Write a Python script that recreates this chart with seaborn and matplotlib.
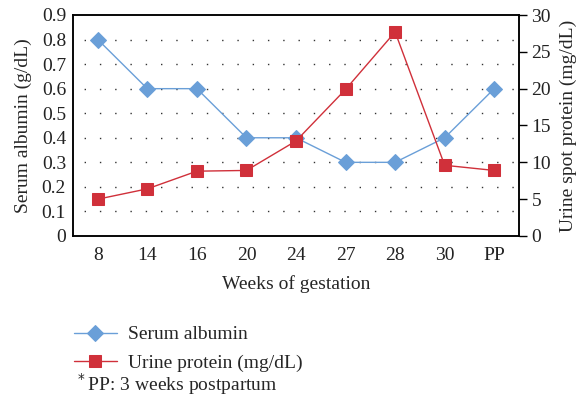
import pandas as pd
import numpy as np
import matplotlib.pyplot as plt
import seaborn as sns

sns.set_style('white')
plt.rcParams['font.family'] = ['Liberation Serif', 'DejaVu Serif']
plt.rcParams.update({'font.size': 14})

# Data
weeks = ['8', '14', '16', '20', '24', '27', '28', '30', 'PP']
serum_albumin = [0.8, 0.6, 0.6, 0.4, 0.4, 0.3, 0.3, 0.4, 0.6]
urine_protein = [5.0, 6.4, 8.8, 8.9, 12.9, 19.9, 27.7, 9.6, 8.9]

df = pd.DataFrame({'week': weeks, 'albumin': serum_albumin, 'protein': urine_protein})

blue = '#6A9FD8'
red = '#D0303A'

fig = plt.figure(figsize=(5.84, 4.04), dpi=100)
ax = fig.add_axes([73 / 584, 1 - 236 / 404, (519 - 73) / 584, (236 - 15) / 404])
ax2 = ax.twinx()

sns.lineplot(data=df, x='week', y='albumin', ax=ax, sort=False, color=blue,
             marker='D', markersize=8.5, markeredgecolor=blue, linewidth=1,
             label='Serum albumin', legend=False)
sns.lineplot(data=df, x='week', y='protein', ax=ax2, sort=False, color=red,
             marker='s', markersize=8.5, markeredgecolor=red, linewidth=1,
             label='Urine protein (mg/dL)', legend=False)

# dotted horizontal grid
for yv in np.arange(0.1, 0.9, 0.1):
    ax.axhline(yv, color='#333333', linestyle=(3, (1, 10)), linewidth=1.0, zorder=0)

ax.set_xlim(-0.5, len(weeks) - 0.5)
ax.set_ylim(0, 0.9)
ax.set_yticks(np.arange(0, 0.91, 0.1))
ax.set_yticklabels(['0'] + [f'{v:.1f}' for v in np.arange(0.1, 0.91, 0.1)])
ax2.set_ylim(0, 30)
ax2.set_yticks(range(0, 31, 5))

ax.set_xlabel('Weeks of gestation', labelpad=8)
ax.set_ylabel('Serum albumin (g/dL)', labelpad=7)
ax2.set_ylabel('Urine spot protein (mg/dL)', labelpad=6)

ax.tick_params(axis='x', length=0, pad=8, labelcolor='#222222')
ax.tick_params(axis='y', length=0, pad=5, labelcolor='#222222')
ax2.tick_params(axis='y', direction='out', length=6, width=1, pad=3,
                color='black', labelcolor='#222222')
for a in (ax, ax2):
    for s in a.spines.values():
        s.set_color('black')
        s.set_linewidth(1.1)

handles = ax.get_lines()[:1] + ax2.get_lines()[:1]
fig.legend(handles, ['Serum albumin', 'Urine protein (mg/dL)'],
           loc='upper left', bbox_to_anchor=(64 / 584, 1 - 316 / 404),
           frameon=False, handlelength=2.2, handletextpad=0.6, labelspacing=0.55,
           borderpad=0, fontsize=14)
fig.text(75 / 584, 1 - 384 / 404, r'$^*$PP: 3 weeks postpartum', fontsize=14,
         va='center', ha='left')

fig.savefig('out.png', dpi=100)
